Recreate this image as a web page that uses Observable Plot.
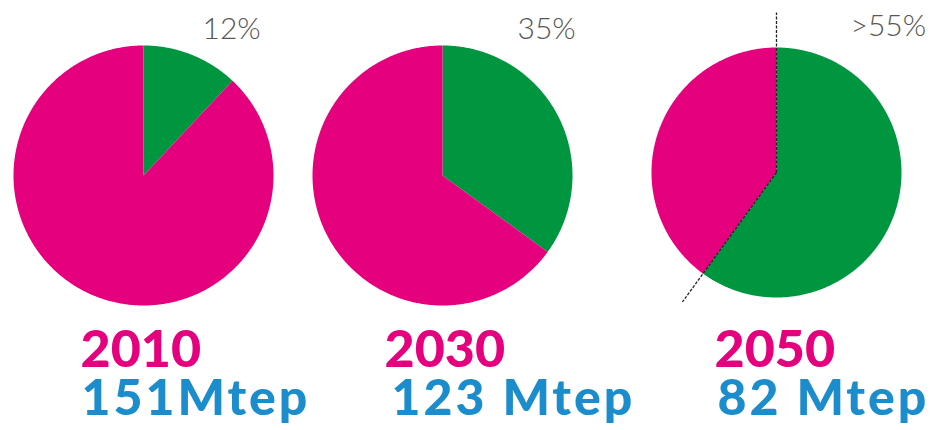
<!DOCTYPE html>
<html><head><meta charset="utf-8">
<script src="https://cdn.jsdelivr.net/npm/d3@7"></script>
<script src="https://cdn.jsdelivr.net/npm/@observablehq/plot@0.6"></script>
<style>body{margin:0;background:#fff}#chart svg{display:block}</style>
</head><body><div id="chart"></div>
<script>
// ---- data ----
const years = ["2010", "2030", "2050"];
const renewableShare = [12, 35, 60];          // % (green slice)
const shareLabels = ["12%", "35%", ">55%"];
const consumption = [151, 123, 82];           // Mtep
const consumptionLabels = ["151Mtep", "123 Mtep", "82 Mtep"];

// ---- layout (pixels) ----
const W = 938, H = 430;
const cx = [143, 442, 776], cy = [175, 175, 172], radius = [130, 130, 125];
const shareLabelX = [202, 517, 850], shareLabelY = [38, 38, 35];
const yearX = [80, 384, 714], mtepX = [81, 391, 717];
const yearBaseline = 366, mtepBaseline = 414;
const GREEN = "#00963f", MAGENTA = "#e5007e", BLUE = "#1b8dcd", GRAY = "#555";

// build wedge polygons from d3.pie angles
const features = [];
years.forEach((yr, i) => {
  const arcs = d3.pie().sort(null).value(d => d.v)([
    {k: "renew", v: renewableShare[i]},
    {k: "other", v: 100 - renewableShare[i]}
  ]);
  arcs.forEach(a => {
    const ring = [[cx[i], cy[i]]];
    const n = Math.max(2, Math.ceil((a.endAngle - a.startAngle) / (Math.PI / 360)));
    for (let j = 0; j <= n; j++) {
      const t = a.startAngle + (a.endAngle - a.startAngle) * j / n;
      ring.push([cx[i] + radius[i] * Math.sin(t), cy[i] - radius[i] * Math.cos(t)]);
    }
    ring.push([cx[i], cy[i]]);
    features.push({type: "Feature", properties: {year: yr, kind: a.data.k},
      geometry: {type: "Polygon", coordinates: [ring]}});
  });
});

// boundary lines for the ">" pie (2050)
const markIdx = shareLabels.findIndex(s => s.startsWith(">"));
const lineLen = 160;
const boundaryLines = [0, renewableShare[markIdx] / 100 * 2 * Math.PI].map(t => ({
  x1: cx[markIdx], y1: cy[markIdx],
  x2: cx[markIdx] + lineLen * Math.sin(t), y2: cy[markIdx] - lineLen * Math.cos(t)
}));

const rows = years.map((y, i) => ({i, year: y, share: shareLabels[i], mtep: consumptionLabels[i], value: consumption[i]}));

const chart = Plot.plot({
  width: W, height: H,
  margin: 0,
  projection: {type: "identity"},
  color: {domain: ["renew", "other"], range: [GREEN, MAGENTA]},
  style: {background: "#fff"},
  marks: [
    Plot.geo(features, {fill: d => d.properties.kind, stroke: "none"}),
    Plot.link(boundaryLines, {x1: "x1", y1: "y1", x2: "x2", y2: "y2",
      stroke: "#222", strokeWidth: 1.3, strokeDasharray: "3,1.5"}),
    Plot.text(rows, {x: d => shareLabelX[d.i], y: d => shareLabelY[d.i], text: "share",
      textAnchor: "start", lineAnchor: "bottom", fontSize: 30, fontWeight: 300,
      fontFamily: "Lato, sans-serif", fill: GRAY}),
    Plot.text(rows, {x: d => yearX[d.i], y: yearBaseline, text: "year",
      textAnchor: "start", lineAnchor: "bottom", fontSize: 52, fontWeight: 900,
      fontFamily: "Lato, sans-serif", fill: MAGENTA}),
    Plot.text(rows, {x: d => mtepX[d.i], y: mtepBaseline, text: "mtep",
      textAnchor: "start", lineAnchor: "bottom", fontSize: 50, fontWeight: 900,
      fontFamily: "Lato, sans-serif", fill: BLUE})
  ]
});
// wider letter spacing for the Gill-Sans-like consumption labels
const textGroups = chart.querySelectorAll('g[aria-label="text"]');
if (textGroups[2]) textGroups[2].setAttribute("letter-spacing", "3");
document.getElementById("chart").appendChild(chart);
</script>
</body></html>
